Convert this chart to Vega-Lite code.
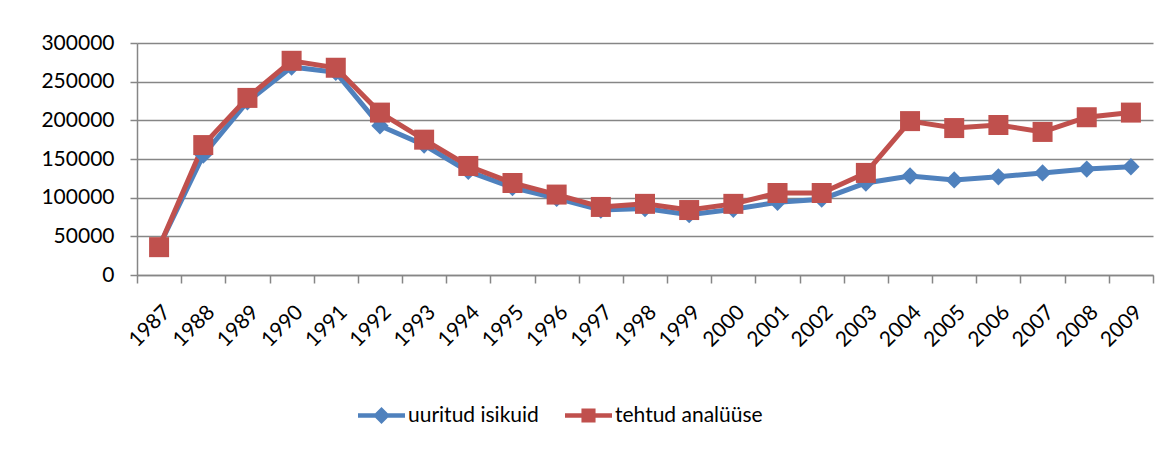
{
  "$schema": "https://vega.github.io/schema/vega-lite/v6.json",
  "autosize": "none",
  "width": 1016,
  "height": 232,
  "padding": {"left": 137, "top": 43, "right": 15, "bottom": 175},
  "background": "white",
  "config": {
    "font": "Lato",
    "view": {"stroke": null},
    "axis": {"labelFont": "Lato", "labelFontSize": 21, "labelColor": "black", "domainColor": "#868686", "domainWidth": 1.5, "tickColor": "#868686", "tickWidth": 1.5, "gridColor": "#868686", "gridWidth": 1.5}
  },
  "data": {
    "values": [
      {"year": "1987", "series": "uuritud isikuid", "value": 37000},
      {"year": "1988", "series": "uuritud isikuid", "value": 155000},
      {"year": "1989", "series": "uuritud isikuid", "value": 224000},
      {"year": "1990", "series": "uuritud isikuid", "value": 269000},
      {"year": "1991", "series": "uuritud isikuid", "value": 262000},
      {"year": "1992", "series": "uuritud isikuid", "value": 193000},
      {"year": "1993", "series": "uuritud isikuid", "value": 168000},
      {"year": "1994", "series": "uuritud isikuid", "value": 134000},
      {"year": "1995", "series": "uuritud isikuid", "value": 113000},
      {"year": "1996", "series": "uuritud isikuid", "value": 99000},
      {"year": "1997", "series": "uuritud isikuid", "value": 84000},
      {"year": "1998", "series": "uuritud isikuid", "value": 86000},
      {"year": "1999", "series": "uuritud isikuid", "value": 78000},
      {"year": "2000", "series": "uuritud isikuid", "value": 85000},
      {"year": "2001", "series": "uuritud isikuid", "value": 94000},
      {"year": "2002", "series": "uuritud isikuid", "value": 98000},
      {"year": "2003", "series": "uuritud isikuid", "value": 119000},
      {"year": "2004", "series": "uuritud isikuid", "value": 128000},
      {"year": "2005", "series": "uuritud isikuid", "value": 123000},
      {"year": "2006", "series": "uuritud isikuid", "value": 127000},
      {"year": "2007", "series": "uuritud isikuid", "value": 132000},
      {"year": "2008", "series": "uuritud isikuid", "value": 137000},
      {"year": "2009", "series": "uuritud isikuid", "value": 140000},
      {"year": "1987", "series": "tehtud analüüse", "value": 36000},
      {"year": "1988", "series": "tehtud analüüse", "value": 168000},
      {"year": "1989", "series": "tehtud analüüse", "value": 229000},
      {"year": "1990", "series": "tehtud analüüse", "value": 277000},
      {"year": "1991", "series": "tehtud analüüse", "value": 268000},
      {"year": "1992", "series": "tehtud analüüse", "value": 210000},
      {"year": "1993", "series": "tehtud analüüse", "value": 175000},
      {"year": "1994", "series": "tehtud analüüse", "value": 141000},
      {"year": "1995", "series": "tehtud analüüse", "value": 119000},
      {"year": "1996", "series": "tehtud analüüse", "value": 104000},
      {"year": "1997", "series": "tehtud analüüse", "value": 88000},
      {"year": "1998", "series": "tehtud analüüse", "value": 92000},
      {"year": "1999", "series": "tehtud analüüse", "value": 84000},
      {"year": "2000", "series": "tehtud analüüse", "value": 92000},
      {"year": "2001", "series": "tehtud analüüse", "value": 106000},
      {"year": "2002", "series": "tehtud analüüse", "value": 106000},
      {"year": "2003", "series": "tehtud analüüse", "value": 132000},
      {"year": "2004", "series": "tehtud analüüse", "value": 199000},
      {"year": "2005", "series": "tehtud analüüse", "value": 190000},
      {"year": "2006", "series": "tehtud analüüse", "value": 194000},
      {"year": "2007", "series": "tehtud analüüse", "value": 185000},
      {"year": "2008", "series": "tehtud analüüse", "value": 204000},
      {"year": "2009", "series": "tehtud analüüse", "value": 210000}
    ]
  },
  "encoding": {
    "x": {
      "field": "year", "type": "ordinal",
      "scale": {"type": "band", "paddingInner": 0, "paddingOuter": 0},
      "axis": {"title": null, "labelAngle": -45, "labelAlign": "right", "labelBaseline": "top", "tickBand": "extent", "tickSize": 8, "labelPadding": 18, "grid": false}
    },
    "y": {
      "field": "value", "type": "quantitative",
      "scale": {"domain": [0, 300000], "nice": false},
      "axis": {"title": null, "values": [0, 50000, 100000, 150000, 200000, 250000, 300000], "format": "d", "tickSize": 7, "labelPadding": 16, "grid": true}
    }
  },
  "layer": [
    {
      "mark": {"type": "line", "strokeWidth": 5},
      "encoding": {
        "color": {
          "field": "series", "type": "nominal",
          "scale": {"domain": ["uuritud isikuid", "tehtud analüüse"], "range": ["#4F81BD", "#C0504D"]},
          "legend": {
            "title": null, "orient": "none", "direction": "horizontal",
            "legendX": 221, "legendY": 349,
            "labelFont": "Lato", "labelFontSize": 21, "labelColor": "black",
            "symbolType": "M-1,-0.1L1,-0.1L1,0.1L-1,0.1Z",
            "symbolSize": 2209, "symbolStrokeWidth": 0, "symbolOpacity": 1,
            "labelOffset": 3, "columnPadding": 26, "gridAlign": "none",
            "encode": {
              "symbols": {
                "update": {
                  "shape": {"signal": "datum.value === 'uuritud isikuid' ? 'M-1,-0.1L1,-0.1L1,0.1L-1,0.1Z M0,-0.36L0.36,0L0,0.36L-0.36,0Z' : 'M-1,-0.1L1,-0.1L1,0.1L-1,0.1Z M-0.3,-0.3L0.3,-0.3L0.3,0.3L-0.3,0.3Z'"},
                  "fill": {"signal": "datum.value === 'uuritud isikuid' ? '#4F81BD' : '#C0504D'"},
                  "strokeWidth": {"value": 0}
                }
              }
            }
          }
        }
      }
    },
    {
      "transform": [{"filter": "datum.series === 'uuritud isikuid'"}],
      "mark": {"type": "point", "filled": true, "opacity": 1, "shape": "diamond", "size": 300, "color": "#4F81BD"}
    },
    {
      "transform": [{"filter": "datum.series === 'tehtud analüüse'"}],
      "mark": {"type": "point", "filled": true, "opacity": 1, "shape": "square", "size": 400, "color": "#C0504D"}
    }
  ]
}
